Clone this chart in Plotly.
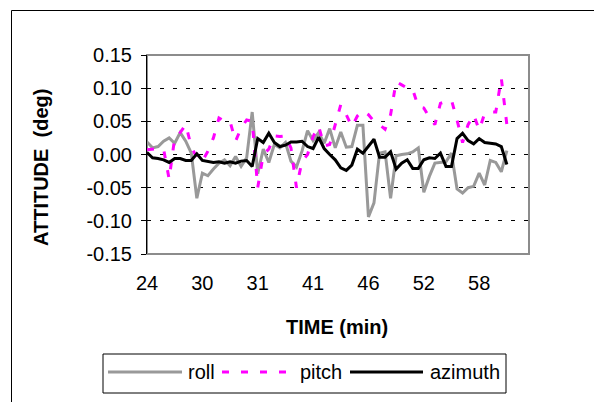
import plotly.graph_objects as go

# ---------------- data ----------------
tick_index = [0, 10, 20, 30, 40, 50, 60]
tick_labels = ["24", "30", "31", "41", "46", "52", "58"]
y_ticks = [-0.15, -0.10, -0.05, 0.00, 0.05, 0.10, 0.15]
y_tick_text = ["-0.15", "-0.10", "-0.05", "0.00", "0.05", "0.10", "0.15"]
n_categories = 70

roll = [0.019, 0.010, 0.012, 0.020, 0.025, 0.017, 0.033, 0.020, 0.002, -0.066,
        -0.028, -0.032, -0.022, -0.013, -0.008, -0.017, -0.003, -0.018, -0.005, 0.064,
        -0.029, 0.008, -0.012, 0.015, 0.010, 0.018, -0.010, -0.019, 0.005, 0.036,
        0.021, 0.033, 0.017, 0.039, 0.010, 0.034, 0.011, 0.012, 0.044, 0.044,
        -0.094, -0.073, 0.002, 0.004, -0.066, -0.002, 0.000, 0.001, 0.004, 0.010,
        -0.057, -0.033, -0.013, -0.012, -0.011, 0.002, -0.052, -0.058, -0.050, -0.048,
        -0.028, -0.046, -0.009, -0.012, -0.026, 0.006]

pitch = [0.007, 0.008, 0.009, 0.008, -0.037, 0.025, 0.033, 0.045, 0.012, -0.005,
         -0.010, 0.005, 0.025, 0.055, 0.050, 0.050, 0.020, 0.040, 0.052, 0.050,
         -0.050, 0.000, 0.008, 0.028, 0.027, 0.028, 0.010, -0.050, -0.010, 0.000,
         0.027, 0.043, 0.013, 0.015, 0.043, 0.075, 0.060, 0.042, 0.058, 0.066,
         0.060, 0.050, 0.045, 0.038, 0.060, 0.110, 0.105, 0.100, 0.098, 0.072,
         0.070, 0.056, 0.045, 0.077, 0.080, 0.082, 0.052, 0.018, 0.045, 0.060,
         0.037, 0.062, 0.064, 0.064, 0.115, 0.045]

azimuth = [0.003, -0.005, -0.006, -0.008, -0.012, -0.006, -0.006, -0.009, -0.009, 0.001,
           -0.009, -0.010, -0.012, -0.011, -0.013, -0.011, -0.013, -0.010, -0.009, -0.018,
           0.024, 0.018, 0.032, 0.018, 0.012, 0.014, 0.019, 0.019, 0.020, 0.012,
           0.009, 0.026, 0.009, 0.000, -0.008, -0.020, -0.024, -0.016, 0.008, 0.002,
           0.012, 0.023, -0.004, -0.004, 0.004, -0.022, -0.013, -0.008, -0.021, -0.021,
           -0.008, -0.005, -0.006, 0.002, -0.018, -0.018, 0.024, 0.032, 0.021, 0.016,
           0.024, 0.018, 0.017, 0.016, 0.012, -0.015]

series_names = ["roll", "pitch", "azimuth"]

# ---------------- styling / layout ----------------
WIN_W, WIN_H = 602, 402
OFF = 8                                  # default body margin of the html page
W, H = WIN_W - OFF, WIN_H - OFF          # figure size so that it fits the window
L, R, T, B = 147, 529, 55, 254           # plot area in window pixels
FONT = "Liberation Sans, Arial, sans-serif"
colors = {"roll": "#999999", "pitch": "#ff00ff", "azimuth": "#000000"}
dashes = {"roll": "solid", "pitch": "7px,12px", "azimuth": "solid"}


def px(xp):
    return (xp - L) / (R - L)


def py(yp):
    return (B - yp) / (B - T)


x_idx = list(range(len(roll)))
data = {"roll": roll, "pitch": pitch, "azimuth": azimuth}

fig = go.Figure()
for name in series_names:
    fig.add_trace(go.Scatter(
        x=x_idx, y=data[name], mode="lines", name=name,
        line=dict(color=colors[name], width=3, dash=dashes[name]),
        showlegend=False,
    ))

xr = [0, n_categories - 1]
ymin, ymax = y_ticks[0], y_ticks[-1]
zero_pos = (0 - ymin) / (ymax - ymin)

axis_common = dict(range=xr, showgrid=False, zeroline=False)

fig.update_layout(
    width=W, height=H,
    margin=dict(l=L - OFF, r=W - (R - OFF), t=T - OFF, b=H - (B - OFF), pad=0),
    paper_bgcolor="white", plot_bgcolor="white",
    font=dict(family=FONT, size=19, color="black"),
    showlegend=False,
    xaxis=dict(**axis_common, tickmode="array", tickvals=tick_index, ticktext=tick_labels,
               ticks="", showline=False, tickfont=dict(size=20, color="black"),
               ticklabelstandoff=15),
    xaxis2=dict(**axis_common, overlaying="x", anchor="free", position=zero_pos,
                tick0=0, dtick=1, ticks="outside", ticklen=4, tickwidth=1, tickcolor="black",
                showticklabels=False, showline=True, linecolor="black", linewidth=1),
    xaxis3=dict(**axis_common, overlaying="x", anchor="free", position=zero_pos,
                tick0=0, dtick=1, ticks="inside", ticklen=4, tickwidth=1, tickcolor="black",
                showticklabels=False, showline=False),
    yaxis=dict(range=[ymin, ymax], tickmode="array", tickvals=y_ticks, ticktext=y_tick_text,
               ticks="outside", ticklen=5, tickwidth=1, tickcolor="black",
               showline=True, linecolor="black", linewidth=1,
               showgrid=True, gridcolor="black", gridwidth=1, griddash="4px,9px",
               zeroline=False, tickfont=dict(size=20, color="black"),
               ticklabelstandoff=5),
)

shapes = []
# plot area border (grey)
shapes.append(dict(type="rect", xref="paper", yref="paper", x0=0, x1=1, y0=0, y1=1,
                   line=dict(color="#8c8c8c", width=2), layer="below"))
# outer chart frame
shapes.append(dict(type="rect", xref="paper", yref="paper", x0=px(11.5), x1=px(599),
                   y0=py(420), y1=py(10.5), line=dict(color="black", width=1), layer="below"))
# legend box
shapes.append(dict(type="rect", xref="paper", yref="paper", x0=px(103), x1=px(506),
                   y0=py(393), y1=py(354), line=dict(color="black", width=1), layer="above"))

legend_items = [("roll", 108, 182, 186), ("pitch", 222, 294, 298), ("azimuth", 350, 423, 428)]
annotations = []
for name, lx0, lx1, tx in legend_items:
    shapes.append(dict(type="line", xref="paper", yref="paper", x0=px(lx0), x1=px(lx1),
                       y0=py(372), y1=py(372),
                       line=dict(color=colors[name], width=3, dash=dashes[name])))
    annotations.append(dict(text=name, xref="paper", yref="paper", x=px(tx), y=py(372),
                            xanchor="left", yanchor="middle", showarrow=False,
                            font=dict(size=20, color="black", family=FONT)))

annotations.append(dict(text="<b>ATTITUDE\u00a0 (deg)</b>", xref="paper", yref="paper",
                        x=px(41), y=py(168), textangle=-90, showarrow=False,
                        xanchor="center", yanchor="middle",
                        font=dict(size=20, color="black", family=FONT)))
annotations.append(dict(text="<b>TIME (min)</b>", xref="paper", yref="paper",
                        x=px(337), y=py(327), showarrow=False,
                        xanchor="center", yanchor="middle",
                        font=dict(size=20, color="black", family=FONT)))

fig.update_layout(shapes=shapes, annotations=annotations)
fig.write_html("out.html")
